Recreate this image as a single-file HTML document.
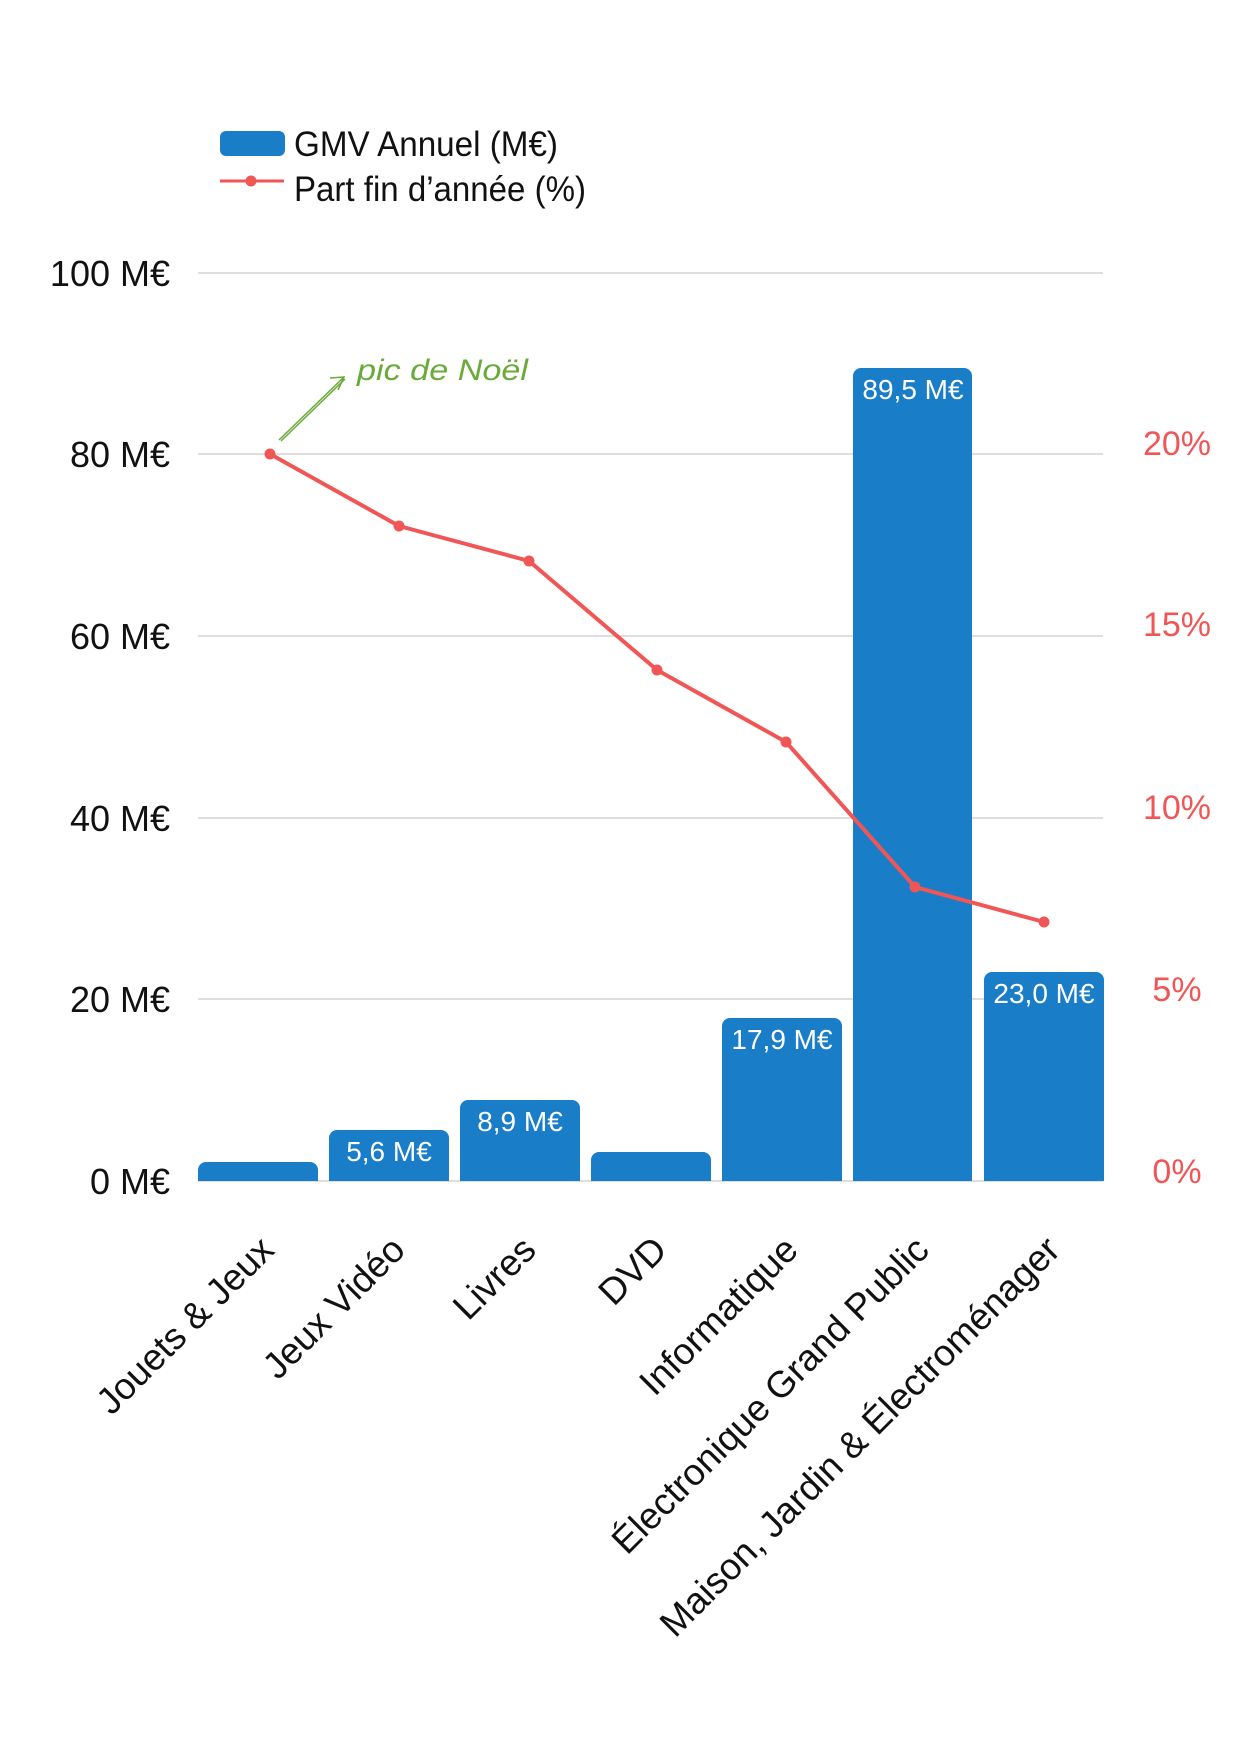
<!DOCTYPE html>
<html><head><meta charset="utf-8"><style>html,body{margin:0;padding:0;background:#fff}svg{display:block}</style></head>
<body>
<svg width="1241" height="1755" viewBox="0 0 1241 1755" xmlns="http://www.w3.org/2000/svg" font-family="Liberation Sans, sans-serif">
<rect width="1241" height="1755" fill="#fff"/>
<!-- legend -->
<rect x="220" y="131" width="65" height="25" rx="6" fill="#1a7dc8"/>
<text x="294" y="156" font-size="35" fill="#111" textLength="264" lengthAdjust="spacingAndGlyphs">GMV Annuel (M€)</text>
<line x1="220" y1="181" x2="284" y2="181" stroke="#f05656" stroke-width="3"/>
<circle cx="251" cy="181" r="5.5" fill="#f05656"/>
<text x="294" y="201" font-size="35" fill="#111" textLength="292" lengthAdjust="spacingAndGlyphs">Part fin d’année (%)</text>
<!-- grid -->
<g stroke="#d4d4d4" stroke-width="1.5">
<line x1="198" y1="273" x2="1103" y2="273"/>
<line x1="198" y1="454" x2="1103" y2="454"/>
<line x1="198" y1="636" x2="1103" y2="636"/>
<line x1="198" y1="818" x2="1103" y2="818"/>
<line x1="198" y1="999" x2="1103" y2="999"/>
<line x1="198" y1="1181" x2="1103" y2="1181"/>
</g>
<!-- left axis -->
<g font-size="36" fill="#111" text-anchor="end">
<text x="170" y="286">100 M€</text>
<text x="170" y="467">80 M€</text>
<text x="170" y="649">60 M€</text>
<text x="170" y="831">40 M€</text>
<text x="170" y="1012">20 M€</text>
<text x="170" y="1194">0 M€</text>
</g>
<!-- right axis -->
<g font-size="34" fill="#f05656" text-anchor="middle">
<text x="1177" y="455">20%</text>
<text x="1177" y="636">15%</text>
<text x="1177" y="819">10%</text>
<text x="1177" y="1001">5%</text>
<text x="1177" y="1183">0%</text>
</g>
<!-- bars -->
<g fill="#1a7dc8">
<path d="M198 1181 V1170 a8 8 0 0 1 8 -8 H310 a8 8 0 0 1 8 8 V1181 Z"/>
<path d="M329 1181 V1138 a8 8 0 0 1 8 -8 H441 a8 8 0 0 1 8 8 V1181 Z"/>
<path d="M460 1181 V1108 a8 8 0 0 1 8 -8 H572 a8 8 0 0 1 8 8 V1181 Z"/>
<path d="M591 1181 V1160 a8 8 0 0 1 8 -8 H703 a8 8 0 0 1 8 8 V1181 Z"/>
<path d="M722 1181 V1026 a8 8 0 0 1 8 -8 H834 a8 8 0 0 1 8 8 V1181 Z"/>
<path d="M853 1181 V376 a8 8 0 0 1 8 -8 H964 a8 8 0 0 1 8 8 V1181 Z"/>
<path d="M984 1181 V980 a8 8 0 0 1 8 -8 H1096 a8 8 0 0 1 8 8 V1181 Z"/>
</g>
<g font-size="28" fill="#fff" text-anchor="middle">
<text x="389" y="1161">5,6 M€</text>
<text x="520" y="1131">8,9 M€</text>
<text x="782" y="1049">17,9 M€</text>
<text x="913" y="399">89,5 M€</text>
<text x="1044" y="1003">23,0 M€</text>
</g>
<!-- line -->
<polyline points="270,454 399,526 529,561 657,670 786,742 915,887 1044,922" fill="none" stroke="#f05656" stroke-width="4" stroke-linejoin="round"/>
<g fill="#f05656">
<circle cx="270" cy="454" r="5.5"/><circle cx="399" cy="526" r="5.5"/><circle cx="529" cy="561" r="5.5"/><circle cx="657" cy="670" r="5.5"/><circle cx="786" cy="742" r="5.5"/><circle cx="915" cy="887" r="5.5"/><circle cx="1044" cy="922" r="5.5"/>
</g>
<!-- annotation -->
<g stroke="#6aaa3a" stroke-width="1.5" fill="none">
<line x1="279" y1="440" x2="344" y2="377"/>
<line x1="281" y1="441" x2="345" y2="379"/>
<polyline points="330,378 344,377 338,390"/>
</g>
<text x="357" y="380" font-size="30" font-style="italic" fill="#6aaa3a" textLength="171" lengthAdjust="spacingAndGlyphs">pic de Noël</text>
<!-- x labels -->
<g font-size="37" fill="#111" text-anchor="end">
<text transform="translate(276,1252) rotate(-45)">Jouets &amp; Jeux</text>
<text transform="translate(407,1252) rotate(-45)">Jeux Vidéo</text>
<text transform="translate(538,1252) rotate(-45)">Livres</text>
<text transform="translate(669,1252) rotate(-45)">DVD</text>
<text transform="translate(800,1252) rotate(-45)">Informatique</text>
<text transform="translate(931,1252) rotate(-45)">Électronique Grand Public</text>
<text transform="translate(1062,1252) rotate(-45)">Maison, Jardin &amp; Électroménager</text>
</g>
</svg>
</body></html>
